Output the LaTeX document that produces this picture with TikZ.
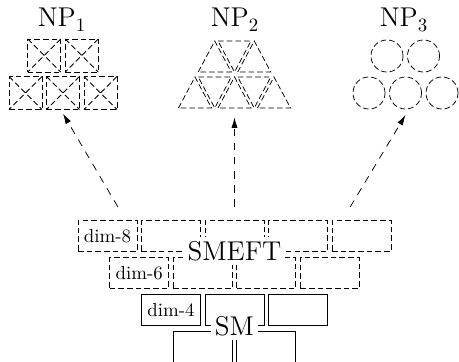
\documentclass[tikz,border=0pt]{standalone}
\usepackage{tikz}
\usetikzlibrary{arrows.meta}
\tikzset{brokenline/.style = {dash pattern=on 3pt off 1.6pt}}
\tikzset{brick/.style = {draw, minimum width=31.3pt, minimum height=16.4pt, inner sep=0pt}}
\tikzset{xbox/.style = {draw, brokenline, minimum size=17.5pt, inner sep=0pt,
                        path picture={\draw [brokenline]
                          (path picture bounding box.north west) -- (path picture bounding box.south east)
                          (path picture bounding box.north east) -- (path picture bounding box.south west);}}}
\tikzset{ball/.style = {draw, brokenline, circle, minimum size=17pt, inner sep=0pt}}
\tikzset{title/.style = {font=\Large, anchor=base}}
\tikzset{tag/.style = {font=\Large, fill=white, inner sep=2pt}}
\tikzset{link/.style = {dash pattern=on 4pt off 3.5pt, -{Latex[length=5.5pt, width=3.2pt]}}}

\begin{document}
\begin{tikzpicture}[x=0.53pt, y=-0.53pt]
  \useasboundingbox (0, 0) rectangle (459, 362);
  \clip (0, 0) rectangle (459, 362);

  % new physics
  \node [title] (np1) at (62, 27) {NP$_1$};
  \node [title] (np2) at (235, 27) {NP$_2$};
  \node [title] (np3) at (404, 27) {NP$_3$};

  \foreach \x [count=\i] in {25.5, 63, 100.5}
    \node [xbox] (xb\i) at (\x, 93) {};
  \foreach \x [count=\i] in {44.25, 81.75}
    \node [xbox] (xt\i) at (\x, 55.5) {};

  \foreach \x in {195, 234.5, 274}
    \draw [brokenline] (\x - 16.5, 108) -- (\x, 77) -- (\x + 16.5, 108) -- cycle;
  \foreach \x in {214.75, 254.25}
    \draw [brokenline] (\x - 16.5, 77) -- (\x + 16.5, 77) -- (\x, 108) -- cycle;
  \foreach \x in {214.75, 254.25}
    \draw [brokenline] (\x - 16.5, 72) -- (\x, 41) -- (\x + 16.5, 72) -- cycle;
  \draw [brokenline] (218, 41) -- (251, 41) -- (234.5, 72) -- cycle;
  \coordinate (tri) at (234.5, 108);

  \foreach \x [count=\i] in {369, 405.5, 442}
    \node [ball] (ob\i) at (\x, 93) {};
  \foreach \x [count=\i] in {387, 423.5}
    \node [ball] (ot\i) at (\x, 56) {};

  % bricks
  \node [brick, brokenline] (eight1) at (107.5, 236) {dim-8};
  \foreach \i in {2, ..., 5}
    \node [brick, brokenline] (eight\i) at (44 + 63.5*\i, 236) {};
  \node [brick, brokenline] (six1) at (139.25, 273) {dim-6};
  \foreach \i in {2, ..., 4}
    \node [brick, brokenline] (six\i) at (75.75 + 63.5*\i, 273) {};
  \node [brick] (four1) at (171, 310) {dim-4};
  \foreach \i in {2, 3}
    \node [brick] (four\i) at (107.5 + 63.5*\i, 310) {};
  \foreach \i in {1, 2}
    \node [brick] (sm\i) at (139.25 + 63.5*\i, 347) {};

  \node [tag] (smeft) at (234.5, 251) {SMEFT};
  \node [tag] (sm) at (234.5, 326) {SM};

  \draw [link] ([shift={(5.5pt, 7pt)}]eight1.north) -- ([yshift=-2pt]xb2.south);
  \draw [link] ([yshift=7pt]eight3.north) -- ([yshift=-5pt]tri);
  \draw [link] ([shift={(-6pt, 7pt)}]eight5.north) -- ([yshift=-3pt]ob2.south);
\end{tikzpicture}
\end{document}
